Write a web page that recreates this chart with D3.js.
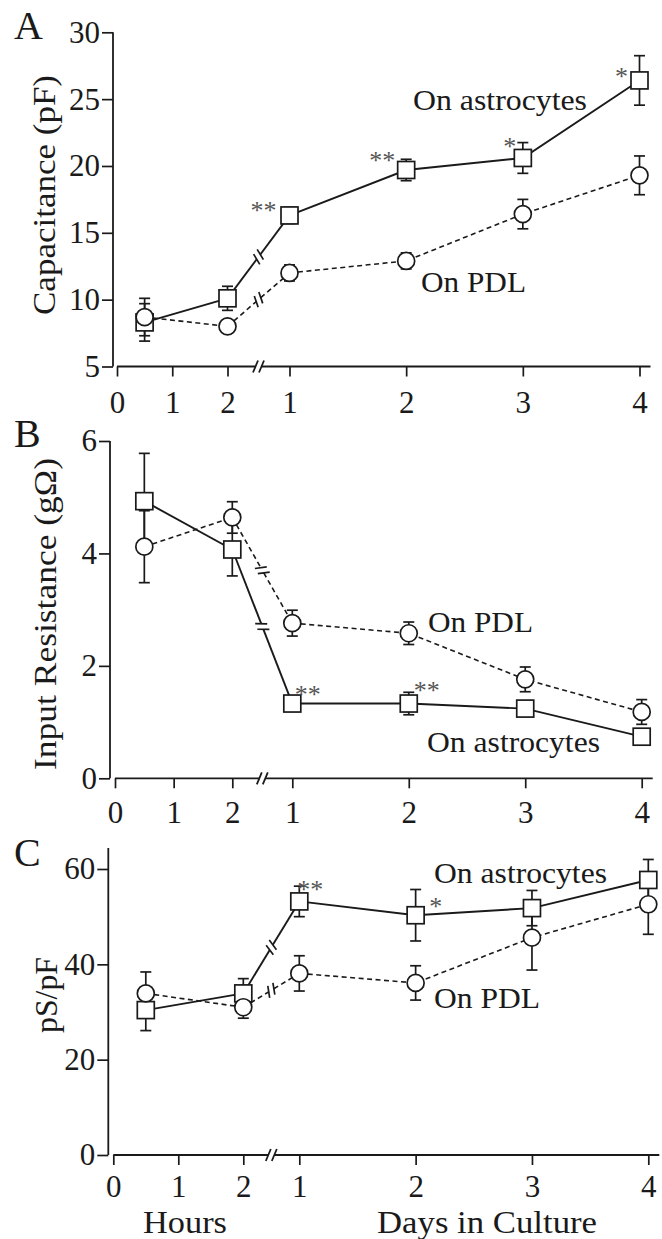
<!DOCTYPE html>
<html>
<head>
<meta charset="utf-8">
<script src="https://cdn.jsdelivr.net/npm/d3@7"></script>
<style>
  body { margin: 0; background: #fff; }
  svg text { font-family: "Liberation Serif", "Times New Roman", Times, serif; fill: #1a1a1a; }
</style>
</head>
<body>
<svg id="chart" width="662" height="1239"></svg>
<script>
// first two samples are in hours, the other four in days
const hoursX = [0.5, 2];
const daysX = [1, 2, 3, 4];
const hourTicks = [0, 1, 2];
const dayTicks = [1, 2, 3, 4];

// A: capacitance (pF)
const capTicks = [5, 10, 15, 20, 25, 30];
const capAstro = [8.3, 10.1, 16.3, 19.7, 20.6, 26.4];
const capAstroErr = [1.4, 0.9, 0.6, 0.8, 1.15, 1.85];
const capPdl = [8.7, 8.0, 12.0, 12.9, 16.4, 19.3];
const capPdlErr = [1.4, 0.3, 0.6, 0.6, 1.1, 1.45];
const capSig = ["", "", "**", "**", "*", "*"];

// B: input resistance (gOhm)
const resTicks = [0, 2, 4, 6];
const resAstro = [4.93, 4.07, 1.33, 1.33, 1.24, 0.74];
const resAstroErr = [0.85, 0.47, 0.1, 0.2, 0.08, 0.05];
const resPdl = [4.12, 4.64, 2.76, 2.58, 1.76, 1.18];
const resPdlErr = [0.64, 0.28, 0.23, 0.2, 0.22, 0.22];
const resSig = ["", "", "**", "**", "", ""];

// C: current density (pS/pF)
const densTicks = [0, 20, 40, 60];
const densAstro = [30.4, 33.9, 53.2, 50.3, 51.8, 57.7];
const densAstroErr = [4.3, 3.1, 3.2, 5.4, 3.7, 4.3];
const densPdl = [33.9, 31.0, 38.1, 36.1, 45.6, 52.6];
const densPdlErr = [4.5, 2.3, 3.7, 3.6, 6.8, 6.3];
const densSig = ["", "", "**", "*", "", ""];

const panels = [
  {
    letter: "A", letterY: 39, title: "Capacitance (pF)", titleX: 44, titleY: 195, titleLen: 240,
    ticks: capTicks, yDomain: [5, 30], yRange: [366.5, 32.3], yTop: 32.3, axisX: 113,
    hRange: [117, 227.5], dRange: [289.5, 639.5], xLabelY: 46.5,
    astro: capAstro, astroErr: capAstroErr, pdl: capPdl, pdlErr: capPdlErr, sig: capSig,
    starOff: [null, null, [-26, -8], [-24, -13], [-13, -15], [-18, -7]],
    labels: [["On astrocytes", 413, 110, 174], ["On PDL", 421, 292, 105]]
  },
  {
    letter: "B", letterY: 447, title: "Input Resistance (g\u03A9)", titleX: 45, titleY: 614, titleLen: 312,
    ticks: resTicks, yDomain: [0, 6], yRange: [778.3, 441], yTop: 441, axisX: 110,
    hRange: [115, 232.3], dRange: [292.3, 641.7], xLabelY: 45,
    astro: resAstro, astroErr: resAstroErr, pdl: resPdl, pdlErr: resPdlErr, sig: resSig,
    starOff: [null, null, [15.5, -13], [18, -17], null, null],
    labels: [["On PDL", 428, 632, 105], ["On astrocytes", 427, 752, 173]]
  },
  {
    letter: "C", letterY: 866, title: "pS/pF", titleX: 46, titleY: 995, titleLen: 76,
    ticks: densTicks, yDomain: [0, 60], yRange: [1155, 869], yTop: 848, axisX: 108.3,
    hRange: [113.3, 243.3], dRange: [299.3, 648.3], xLabelY: 42,
    astro: densAstro, astroErr: densAstroErr, pdl: densPdl, pdlErr: densPdlErr, sig: densSig,
    starOff: [null, null, [11, -15], [20, -12.5], null, null],
    labels: [["On astrocytes", 434, 883, 173], ["On PDL", 434, 1008, 106]]
  }
];

const ink = "#1a1a1a";
const fmt = d3.format("d");
const svg = d3.select("#chart");
svg.append("rect").attr("width", 662).attr("height", 1239).attr("fill", "#fff");

// segment with a "//" break in the middle
function brokenSegment(g, x1, y1, x2, y2, dash) {
  const mx = (x1 + x2) / 2, my = (y1 + y2) / 2;
  const len = Math.hypot(x2 - x1, y2 - y1);
  const ux = (x2 - x1) / len, uy = (y2 - y1) / len;
  const gap = 3;
  g.append("line").attr("x1", x1).attr("y1", y1)
    .attr("x2", mx - ux * gap).attr("y2", my - uy * gap)
    .attr("stroke-dasharray", dash);
  g.append("line").attr("x1", mx + ux * gap).attr("y1", my + uy * gap)
    .attr("x2", x2).attr("y2", y2)
    .attr("stroke-dasharray", dash);
  const a = -68 * Math.PI / 180;
  const vx = ux * Math.cos(a) - uy * Math.sin(a);
  const vy = ux * Math.sin(a) + uy * Math.cos(a);
  [-gap, gap].forEach(o => {
    const cx = mx + ux * o, cy = my + uy * o;
    g.append("line")
      .attr("x1", cx - vx * 6).attr("y1", cy - vy * 6)
      .attr("x2", cx + vx * 6).attr("y2", cy + vy * 6)
      .attr("stroke-width", 1.7);
  });
}

panels.forEach(p => {
  const y = d3.scaleLinear().domain(p.yDomain).range(p.yRange);
  const xh = d3.scaleLinear().domain([0, 2]).range(p.hRange);
  const xd = d3.scaleLinear().domain([1, 4]).range(p.dRange);
  const xs = hoursX.map(xh).concat(daysX.map(xd));
  const y0 = p.yRange[0];
  const g = svg.append("g");

  // panel letter
  g.append("text").attr("x", 14).attr("y", p.letterY)
    .attr("font-size", 40).text(p.letter);

  // y axis
  g.append("line").attr("x1", p.axisX).attr("x2", p.axisX)
    .attr("y1", p.yTop).attr("y2", y0)
    .attr("stroke", ink).attr("stroke-width", 1.8);
  const yAxis = g.append("g")
    .attr("transform", `translate(${p.axisX},0)`)
    .call(d3.axisLeft(y).tickValues(p.ticks).tickFormat(fmt)
      .tickSize(11).tickSizeOuter(0).tickPadding(2));
  yAxis.select(".domain").remove();
  yAxis.attr("font-size", 31).attr("font-family", null);
  yAxis.selectAll("line").attr("stroke", ink).attr("stroke-width", 1.7);

  // y title
  g.append("text")
    .attr("transform", `translate(${p.titleX},${p.titleY}) rotate(-90)`)
    .attr("text-anchor", "middle").attr("dominant-baseline", "central")
    .attr("font-size", 32)
    .attr("textLength", p.titleLen).attr("lengthAdjust", "spacingAndGlyphs")
    .text(p.title);

  // x axis line with a break between the hour and day parts
  const ax = g.append("g").attr("stroke", ink).attr("stroke-width", 1.8);
  const brk = (xh(2) + xd(1)) / 2;
  ax.append("line").attr("x1", xh(0)).attr("x2", brk - 3).attr("y1", y0).attr("y2", y0);
  ax.append("line").attr("x1", brk + 3).attr("x2", p.dRange[1] + 11).attr("y1", y0).attr("y2", y0);
  [-3, 3].forEach(o => {
    ax.append("line")
      .attr("x1", brk + o - 2.5).attr("y1", y0 + 6)
      .attr("x2", brk + o + 2.5).attr("y2", y0 - 6)
      .attr("stroke-width", 1.8);
  });

  [[xh, hourTicks], [xd, dayTicks]].forEach(([sc, tv]) => {
    const xa = g.append("g")
      .attr("transform", `translate(0,${y0})`)
      .call(d3.axisBottom(sc).tickValues(tv).tickFormat(fmt).tickSize(10).tickSizeOuter(0));
    xa.select(".domain").remove();
    xa.attr("font-size", 31).attr("font-family", null);
    xa.selectAll("line").attr("stroke", ink).attr("stroke-width", 1.7);
    xa.selectAll("text").attr("dy", null).attr("y", p.xLabelY);
  });

  // connecting lines
  [[p.astro, null, 1.9], [p.pdl, "5,3.5", 1.6]].forEach(([vals, dash, w]) => {
    const lg = g.append("g").attr("stroke", ink).attr("stroke-width", w).attr("fill", "none");
    const line = d3.line().x(d => d[0]).y(d => d[1]);
    const pts = vals.map((v, i) => [xs[i], y(v)]);
    lg.append("path").attr("d", line(pts.slice(0, 2))).attr("stroke-dasharray", dash);
    lg.append("path").attr("d", line(pts.slice(2))).attr("stroke-dasharray", dash);
    brokenSegment(lg, pts[1][0], pts[1][1], pts[2][0], pts[2][1], dash);
  });

  // error bars
  [[p.astro, p.astroErr], [p.pdl, p.pdlErr]].forEach(([vals, errs]) => {
    const eg = g.append("g").attr("stroke", ink).attr("stroke-width", 1.7);
    vals.forEach((v, i) => {
      const lo = y(v - errs[i]), hi = y(v + errs[i]);
      eg.append("line").attr("x1", xs[i]).attr("x2", xs[i]).attr("y1", lo).attr("y2", hi);
      eg.append("line").attr("x1", xs[i] - 5.5).attr("x2", xs[i] + 5.5).attr("y1", lo).attr("y2", lo);
      eg.append("line").attr("x1", xs[i] - 5.5).attr("x2", xs[i] + 5.5).attr("y1", hi).attr("y2", hi);
    });
  });

  // markers: squares = on astrocytes, circles = on PDL
  g.append("g").selectAll("rect").data(p.astro).join("rect")
    .attr("x", (d, i) => xs[i] - 8.5).attr("y", d => y(d) - 8.5)
    .attr("width", 17).attr("height", 17)
    .attr("fill", "#fff").attr("stroke", ink).attr("stroke-width", 1.7);
  g.append("g").selectAll("circle").data(p.pdl).join("circle")
    .attr("cx", (d, i) => xs[i]).attr("cy", d => y(d)).attr("r", 8.5)
    .attr("fill", "#fff").attr("stroke", ink).attr("stroke-width", 1.7);

  // significance stars next to the astrocyte points
  p.sig.forEach((s, i) => {
    if (!s) return;
    const o = p.starOff[i];
    g.append("text")
      .attr("x", xs[i] + o[0]).attr("y", y(p.astro[i]) + o[1] + 12)
      .attr("text-anchor", "middle").attr("font-size", 26)
      .style("fill", "#555").text(s);
  });

  // series labels
  p.labels.forEach(([t, lx, ly, len]) => {
    g.append("text").attr("x", lx).attr("y", ly).attr("font-size", 30)
      .attr("textLength", len).attr("lengthAdjust", "spacingAndGlyphs").text(t);
  });
});

// bottom axis titles
svg.append("text").attr("x", 185).attr("y", 1233).attr("text-anchor", "middle")
  .attr("font-size", 31).attr("textLength", 84).attr("lengthAdjust", "spacingAndGlyphs")
  .text("Hours");
svg.append("text").attr("x", 487).attr("y", 1233).attr("text-anchor", "middle")
  .attr("font-size", 31).attr("textLength", 220).attr("lengthAdjust", "spacingAndGlyphs")
  .text("Days in Culture");
</script>
</body>
</html>
